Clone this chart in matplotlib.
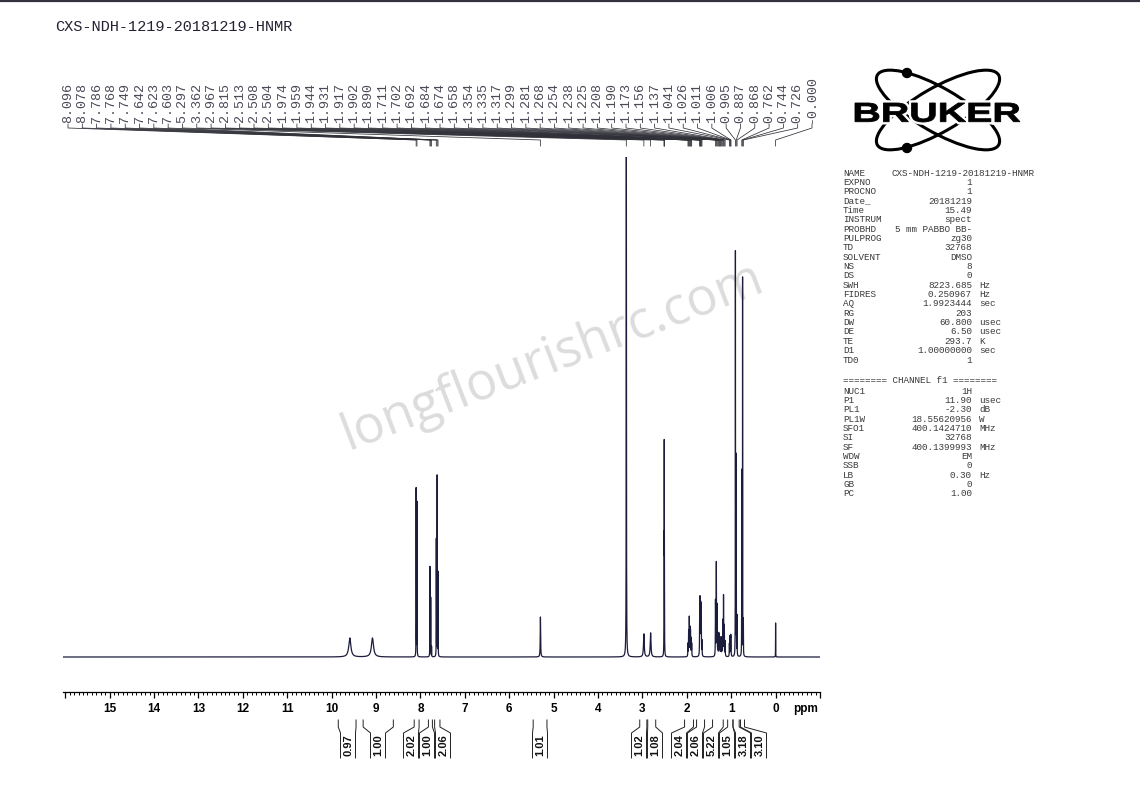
import numpy as np
import matplotlib
matplotlib.use('Agg')
import matplotlib.pyplot as plt
from matplotlib.patches import Ellipse, Circle, PathPatch
from matplotlib.textpath import TextPath
from matplotlib.font_manager import FontProperties
from matplotlib.transforms import Affine2D

plt.rcParams['font.family'] = 'Liberation Sans'
W, H = 1140, 805

title = 'CXS-NDH-1219-20181219-HNMR'

# peak picking printed above the spectrum
pick_txt = ['8.096', '8.078', '7.786', '7.768', '7.749', '7.642', '7.623', '7.603',
            '5.297', '3.362', '2.967', '2.815', '2.513', '2.508', '2.504',
            '1.974', '1.959', '1.944', '1.931', '1.917', '1.902', '1.890',
            '1.711', '1.702', '1.692', '1.684', '1.674', '1.658',
            '1.354', '1.335', '1.317', '1.299', '1.281', '1.268', '1.254',
            '1.238', '1.225', '1.208', '1.190', '1.173', '1.156', '1.137',
            '1.041', '1.026', '1.011', '1.006', '0.905', '0.887', '0.868',
            '0.762', '0.744', '0.726', '-0.000']
pick_ppm = [float(t) for t in pick_txt]

# spectrum lines: ppm, height (% of plot), half width (ppm)
line_ppm = [9.59, 9.08, 8.096, 8.078, 7.786, 7.768, 7.749, 7.642, 7.623, 7.603,
            5.297, 3.362, 2.967, 2.815, 2.513, 2.508, 2.504,
            1.974, 1.959, 1.944, 1.931, 1.917, 1.902, 1.890,
            1.711, 1.702, 1.692, 1.684, 1.674, 1.658,
            1.354, 1.335, 1.317, 1.299, 1.281, 1.268, 1.254, 1.238, 1.225, 1.208,
            1.190, 1.173, 1.156, 1.137, 1.041, 1.026, 1.011, 1.006,
            0.905, 0.887, 0.868, 0.762, 0.744, 0.726, 0.000]
line_h = [3.8, 3.8, 33.6, 31.0, 18.0, 11.8, 2.0, 23.4, 36.2, 16.8,
          8.0, 110.0, 4.6, 4.8, 20.0, 38.0, 20.0,
          2.5, 5.0, 7.6, 5.5, 5.0, 3.5, 2.5,
          7.0, 10.5, 9.0, 9.0, 6.0, 3.0,
          11.0, 18.5, 10.0, 3.5, 4.4, 4.0, 3.6, 3.2, 3.0, 3.6,
          7.0, 12.0, 6.0, 3.0, 2.5, 4.0, 3.5, 3.0,
          81.0, 40.0, 8.0, 37.0, 75.6, 7.0, 6.8]
line_w = [0.028, 0.028, 0.0018, 0.0018, 0.0018, 0.0018, 0.0018, 0.0018, 0.0018, 0.0018,
          0.005, 0.003, 0.010, 0.010, 0.0018, 0.0018, 0.0018,
          0.003, 0.003, 0.003, 0.003, 0.003, 0.003, 0.003,
          0.003, 0.003, 0.003, 0.003, 0.003, 0.003,
          0.003, 0.003, 0.003, 0.003, 0.003, 0.003, 0.003, 0.003, 0.003, 0.003,
          0.003, 0.003, 0.003, 0.003, 0.003, 0.003, 0.003, 0.003,
          0.0018, 0.0018, 0.0018, 0.0018, 0.0018, 0.0018, 0.0015]

# integrals
int_from = [9.85, 9.29, 8.14, 7.82, 7.68, 5.46, 3.06, 2.88, 2.05, 1.78, 1.42, 1.08, 0.96, 0.79]
int_to = [9.45, 8.61, 8.03, 7.73, 7.56, 5.15, 2.90, 2.70, 1.85, 1.60, 1.18, 0.96, 0.82, 0.70]
int_val = ['0.97', '1.00', '2.02', '1.00', '2.06', '1.01', '1.02', '1.08',
           '2.04', '2.06', '5.22', '1.05', '3.18', '3.10']
int_label_x = [348, 378, 411, 427, 443, 540, 639, 655, 679, 695, 711, 727, 743, 759]

# acquisition / processing parameters
par_keys = ['NAME', 'EXPNO', 'PROCNO', 'Date_', 'Time', 'INSTRUM', 'PROBHD', 'PULPROG',
            'TD', 'SOLVENT', 'NS', 'DS', 'SWH', 'FIDRES', 'AQ', 'RG', 'DW', 'DE', 'TE',
            'D1', 'TD0']
par_vals = ['', '1', '1', '20181219', '15.49', 'spect', '5 mm PABBO BB-', 'zg30',
            '32768', 'DMSO', '8', '0', '8223.685', '0.250967', '1.9923444', '203',
            '60.800', '6.50', '293.7', '1.00000000', '1']
par_units = ['', '', '', '', '', '', '', '', '', '', '', '', 'Hz', 'Hz', 'sec', '',
             'usec', 'usec', 'K', 'sec', '']
ch_keys = ['NUC1', 'P1', 'PL1', 'PL1W', 'SFO1', 'SI', 'SF', 'WDW', 'SSB', 'LB', 'GB', 'PC']
ch_vals = ['1H', '11.90', '-2.30', '18.55620956', '400.1424710', '32768',
           '400.1399993', 'EM', '0', '0.30', '0', '1.00']
ch_units = ['', 'usec', 'dB', 'W', 'MHz', '', 'MHz', '', '', 'Hz', '', '']

fig = plt.figure(figsize=(W / 100, H / 100), dpi=100)

# overlay in pixel coordinates for labels, logo, parameters
ov = fig.add_axes([0, 0, 1, 1], zorder=-1)
ov.set_xlim(0, W)
ov.set_ylim(H, 0)
ov.axis('off')

ax = fig.add_axes([63 / W, (H - 692) / H, 757 / W, (692 - 157) / H])
ax.patch.set_alpha(0)
ax.set_xlim(16.05, -1.0)
ax.set_ylim(-7, 100)

x = np.linspace(16.05, -1.0, 60000)
y = np.zeros_like(x)
for p, h, w in zip(line_ppm, line_h, line_w):
    y += h / (1 + ((x - p) / w) ** 2)
ax.plot(x, y, color='#1c1c3c', lw=0.9)

for s in ['left', 'right', 'top']:
    ax.spines[s].set_visible(False)
ax.spines['bottom'].set_linewidth(0.9)
ax.set_yticks([])
maj = np.arange(-1, 17)
ax.set_xticks(maj, labels=[str(i) if 0 <= i <= 15 else '' for i in maj])
ax.set_xticks(np.arange(-1, 16.06, 0.1), minor=True)
ax.tick_params(axis='x', which='major', direction='out', length=4, width=0.9, pad=4,
               labelsize=8.5)
ax.tick_params(axis='x', which='minor', direction='out', length=1.8, width=0.7)
for lab in ax.get_xticklabels():
    lab.set_fontweight('bold')
ax.text(-0.4, -0.0206, 'ppm', transform=ax.get_xaxis_transform(), fontsize=8.5,
        fontweight='bold', ha='left', va='top')


def to_px(ppm):
    disp = ax.transData.transform((ppm, 0))
    return ov.transData.inverted().transform(disp)[0]


# title
ov.text(55, 27, title, family='Liberation Mono', fontsize=11, color='#222233',
        ha='left', va='center')
ov.plot([0, W], [0.8, 0.8], color='#333340', lw=1.6)

# peak labels with connectors
lab_x = np.linspace(68, 812, len(pick_txt))
for lx, t, p in zip(lab_x, pick_txt, pick_ppm):
    ov.text(lx, 123, t, rotation=90, ha='center', va='bottom', family='Liberation Mono',
            fontsize=9.6, color='#4a4a58')
    px = to_px(p)
    ov.plot([lx, lx, px, px], [124, 128, 140, 146], color='#303038', lw=0.55)

# integrals
for a, b, v, lx in zip(int_from, int_to, int_val, int_label_x):
    xa, xb = to_px(a), to_px(b)
    ov.plot([xa, xa, lx - 7.5, lx - 7.5], [720, 727, 733, 758], color='#222', lw=0.7)
    ov.plot([xb, xb, lx + 7.5, lx + 7.5], [720, 727, 733, 758], color='#222', lw=0.7)
    ov.text(lx + 0.5, 745, v, rotation=90, ha='center', va='center', fontsize=8,
            fontweight='bold', color='#111')

# watermark
ov.text(552, 357, 'longflourishrc.com', rotation=21, ha='center', va='center',
        family='Open Sans', fontsize=37, color='#dcdcdc')

# logo
for ang in (30, -30):
    ov.add_patch(Ellipse((938, 110), 140, 44, angle=ang, fill=False, lw=2.2, color='black'))
ov.add_patch(Circle((907, 73), 4.5, color='black'))
ov.add_patch(Circle((907, 148), 4.5, color='black'))
tp = TextPath((0, 0), 'BRUKER', size=20, prop=FontProperties(family='Liberation Sans',
                                                            weight='bold'))
ext = tp.get_extents()
tr = Affine2D().translate(-ext.x0, -ext.y0).scale(165 / ext.width, -19 / ext.height) \
    .translate(855, 122)
logo = tr.transform_path(tp)
ov.add_patch(PathPatch(logo, facecolor='white', edgecolor='white', lw=4, zorder=3))
ov.add_patch(PathPatch(logo, facecolor='black', edgecolor='black', lw=0.6, zorder=4))

# parameter block
mono = dict(family='Liberation Mono', fontsize=6.7, color='#3a3a3a')
y0 = 173
for i, (k, v, u) in enumerate(zip(par_keys, par_vals, par_units)):
    yy = y0 + i * 9.35
    ov.text(843, yy, k, ha='left', va='center', **mono)
    ov.text(972, yy, v, ha='right', va='center', **mono)
    ov.text(979, yy, u, ha='left', va='center', **mono)
ov.text(892, y0, title, ha='left', va='center', **mono)
ov.text(843, 380.5, '======== CHANNEL f1 ========', ha='left', va='center', **mono)
for i, (k, v, u) in enumerate(zip(ch_keys, ch_vals, ch_units)):
    yy = 391 + i * 9.35
    ov.text(843, yy, k, ha='left', va='center', **mono)
    ov.text(972, yy, v, ha='right', va='center', **mono)
    ov.text(979, yy, u, ha='left', va='center', **mono)

fig.savefig('out.png', dpi=100)
